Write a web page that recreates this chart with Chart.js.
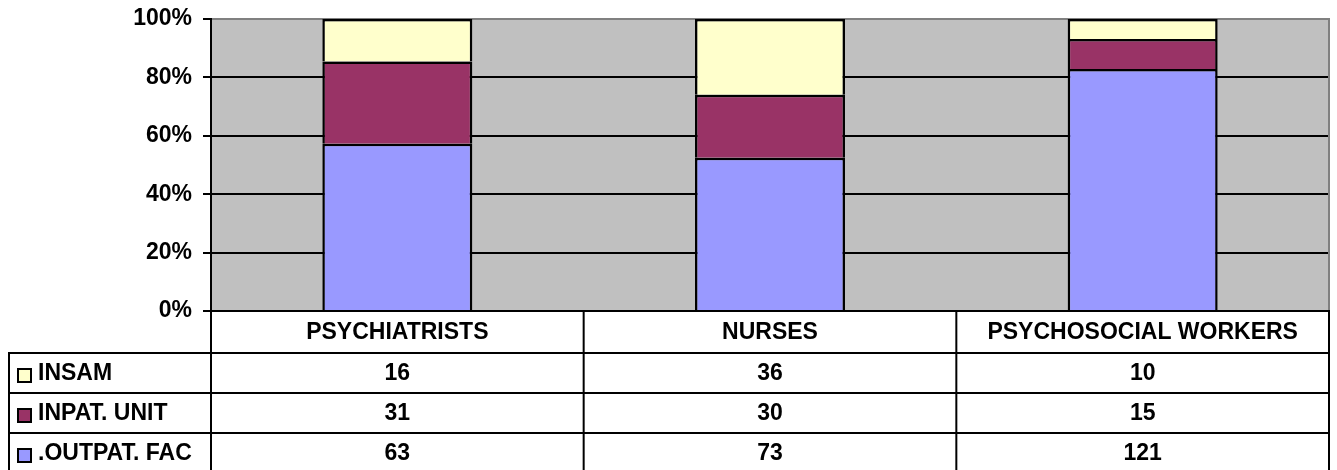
<!DOCTYPE html>
<html>
<head>
<meta charset="utf-8">
<script src="https://cdn.jsdelivr.net/npm/chart.js@4.4.1/dist/chart.umd.min.js"></script>
<style>
  html, body { margin: 0; padding: 0; background: #fff; }
  #wrap { width: 1337px; height: 470px; }
</style>
</head>
<body>
<div id="wrap"><canvas id="staffChart" width="1337" height="470"></canvas></div>
<script>
// Data
const categories = ['PSYCHIATRISTS', 'NURSES', 'PSYCHOSOCIAL WORKERS'];
const outpatFac = [63, 73, 121];
const inpatUnit = [31, 30, 15];
const insam = [16, 36, 10];
const yTicks = [0, 20, 40, 60, 80, 100];

const FONT = '"Liberation Sans", Arial, sans-serif';
const FONT_SIZE = 23;

// totals per column, for the 100% stacking
const totals = categories.map((_, i) => outpatFac[i] + inpatUnit[i] + insam[i]);
const toPct = arr => arr.map((v, i) => v / totals[i] * 100);

// table rows, top to bottom
const tableRows = [
  { label: 'INSAM', values: insam, color: '#FFFFCC' },
  { label: 'INPAT. UNIT', values: inpatUnit, color: '#993366' },
  { label: '.OUTPAT. FAC', values: outpatFac, color: '#9999FF' }
];

// grey plot background and right border
const plotBackground = {
  id: 'plotBackground',
  beforeDraw(chart) {
    const { ctx, chartArea: a } = chart;
    ctx.save();
    ctx.fillStyle = '#C0C0C0';
    ctx.fillRect(a.left, a.top, a.right - a.left, a.bottom - a.top);
    ctx.restore();
  },
  beforeDatasetsDraw(chart) {
    const { ctx, chartArea: a } = chart;
    ctx.save();
    ctx.strokeStyle = '#808080';
    ctx.lineWidth = 2;
    ctx.beginPath();
    ctx.moveTo(a.right, a.top - 1);
    ctx.lineTo(a.right, a.bottom);
    ctx.stroke();
    ctx.restore();
  }
};

// data table under the plot
const dataTable = {
  id: 'dataTable',
  afterDraw(chart) {
    const { ctx, chartArea: a } = chart;
    const xs = chart.scales.x;
    const colW = (a.right - a.left) / categories.length;
    const headerH = 42, rowH = 40, tableLeft = 9;
    const bottom = chart.height + 2;

    ctx.save();
    ctx.strokeStyle = '#000';
    ctx.lineWidth = 2;
    ctx.beginPath();
    // top line
    ctx.moveTo(a.left, a.bottom);
    ctx.lineTo(a.right + 1, a.bottom);
    // column lines
    for (let k = 0; k <= categories.length; k++) {
      const x = a.left + k * colW;
      ctx.moveTo(x, a.bottom);
      ctx.lineTo(x, bottom);
    }
    // left column box
    ctx.moveTo(tableLeft, a.bottom + headerH);
    ctx.lineTo(tableLeft, bottom);
    tableRows.forEach((_, r) => {
      const y = a.bottom + headerH + r * rowH;
      ctx.moveTo(tableLeft - 1, y);
      ctx.lineTo(a.right + 1, y);
    });
    ctx.stroke();

    ctx.fillStyle = '#000';
    ctx.font = 'bold ' + FONT_SIZE + 'px ' + FONT;
    ctx.textAlign = 'center';
    ctx.textBaseline = 'middle';
    categories.forEach((c, i) => {
      ctx.fillText(c, xs.getPixelForValue(i), a.bottom + headerH / 2 + 1);
    });

    tableRows.forEach((row, r) => {
      const cy = a.bottom + headerH + r * rowH + rowH / 2 + 1;
      ctx.textAlign = 'center';
      ctx.fillStyle = '#000';
      row.values.forEach((v, i) => ctx.fillText(String(v), xs.getPixelForValue(i), cy));
      // legend key
      ctx.fillStyle = row.color;
      ctx.fillRect(18, cy - 5, 13, 13);
      ctx.lineWidth = 2;
      ctx.strokeRect(18, cy - 5, 13, 13);
      ctx.fillStyle = '#000';
      ctx.textAlign = 'left';
      ctx.fillText(row.label, 38, cy);
    });
    ctx.restore();
  }
};

const barCommon = {
  borderColor: '#000',
  borderWidth: 2.5,
  categoryPercentage: 1,
  barPercentage: 0.4025
};

const config = {
  type: 'bar',
  data: {
    labels: categories,
    datasets: [
      { label: '.OUTPAT. FAC', data: toPct(outpatFac), backgroundColor: '#9999FF', ...barCommon },
      { label: 'INPAT. UNIT', data: toPct(inpatUnit), backgroundColor: '#993366', ...barCommon },
      { label: 'INSAM', data: toPct(insam), backgroundColor: '#FFFFCC', ...barCommon }
    ]
  },
  options: {
    responsive: false,
    animation: false,
    layout: { padding: { left: 0, right: 8, top: 19, bottom: 159 } },
    plugins: {
      legend: { display: false },
      title: { display: false },
      tooltip: { enabled: false }
    },
    scales: {
      x: {
        stacked: true,
        display: false
      },
      y: {
        stacked: true,
        min: 0,
        max: 100,
        afterBuildTicks: scale => { scale.ticks = yTicks.map(v => ({ value: v })); },
        afterFit: scale => {
          scale.width = 211;
          scale.paddingTop = 0;
          scale.paddingBottom = 0;
        },
        ticks: {
          callback: v => v + '%',
          color: '#000',
          padding: 11,
          font: { family: FONT, size: FONT_SIZE, weight: 'bold' }
        },
        grid: {
          color: c => (c.tick && c.tick.value === 100 ? '#808080' : '#000'),
          tickColor: '#000',
          lineWidth: 2,
          tickLength: 8
        },
        border: { color: '#000', width: 2 }
      }
    }
  },
  plugins: [plotBackground, dataTable]
};

const staffChart = new Chart(document.getElementById('staffChart'), config);
</script>
</body>
</html>
